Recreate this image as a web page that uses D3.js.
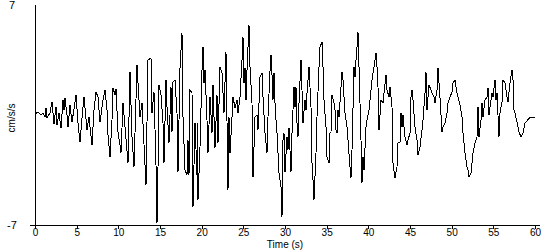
<html lang='eng'>
  <head>
    <script src="https://d3js.org/d3.v7.min.js" charset="utf-8"></script>
    <style>
      body { margin: 0; background: white; }
      text { font-family: Arial, "Liberation Sans", sans-serif; fill: black; }
    </style>
  </head>
  <body>
    <script>
      // acceleration record, time (s) and cm/s/s
      var times = [0, 0.36, 0.72, 0.96, 1.2, 1.32, 1.44, 1.8, 2.04, 2.28, 2.52, 2.64, 2.88, 3.12, 3.36, 3.48, 3.6, 3.84, 3.96,
        4.2, 4.44, 4.68, 4.92, 5.16, 5.4, 5.64, 5.88, 6.24, 6.48, 6.84, 7.08, 7.32, 7.56, 7.8, 8.16, 8.4, 8.64, 8.76, 9.0,
        9.24, 9.36, 9.6, 9.72, 9.96, 10.2, 10.32, 10.56, 10.8, 11.16, 11.4, 11.64, 11.88, 12.24, 12.6, 12.84, 13.32, 13.56,
        13.92, 14.04, 14.28, 14.52, 14.64, 14.76, 14.88, 15.12, 15.36, 15.48, 15.72, 15.84, 16.08, 16.32, 16.44, 16.56, 16.8,
        17.04, 17.16, 17.4, 17.64, 17.76, 18.0, 18.24, 18.36, 18.48, 18.6, 18.84, 18.96, 19.2, 19.44, 19.5, 19.56, 19.8, 20.04,
        20.16, 20.28, 20.4, 20.64, 20.76, 21.0, 21.24, 21.36, 21.6, 21.84, 21.96, 22.2, 22.44, 22.68, 22.92, 23.16, 23.28,
        23.4, 23.64, 23.76, 24.0, 24.24, 24.36, 24.6, 24.84, 24.96, 25.08, 25.2, 25.32, 25.44, 25.68, 25.8, 26.04, 26.16,
        26.4, 26.64, 26.76, 27.0, 27.24, 27.36, 27.6, 27.84, 27.96, 28.2, 28.32, 28.44, 28.56, 28.68, 28.8, 28.92, 29.04,
        29.28, 29.52, 29.64, 29.76, 29.88, 30.0, 30.24, 30.36, 30.48, 30.72, 30.84, 30.96, 31.08, 31.2, 31.32, 31.44, 31.56,
        31.68, 31.92, 32.04, 32.16, 32.4, 32.52, 32.64, 32.76, 32.88, 33.12, 33.24, 33.36, 33.48, 33.72, 33.84, 34.08, 34.2,
        34.44, 34.56, 34.68, 34.92, 35.04, 35.28, 35.4, 35.52, 35.64, 35.88, 36.0, 36.12, 36.24, 36.36, 36.48, 36.72, 36.84,
        36.96, 37.08, 37.2, 37.44, 37.56, 37.8, 37.92, 38.04, 38.28, 38.4, 38.52, 38.64, 38.76, 38.88, 39.12, 39.24, 39.36,
        39.48, 39.72, 39.84, 40.08, 40.32, 40.44, 40.68, 40.92, 41.04, 41.16, 41.28, 41.52, 41.76, 41.88, 42.12, 42.24, 42.48,
        42.6, 42.84, 42.96, 43.2, 43.44, 43.56, 43.8, 43.92, 44.04, 44.16, 44.28, 44.4, 44.64, 44.76, 45.0, 45.12, 45.24,
        45.36, 45.6, 45.84, 45.96, 46.2, 46.44, 46.56, 46.8, 46.92, 47.04, 47.16, 47.28, 47.52, 47.64, 47.88, 48.0, 48.24,
        48.36, 48.6, 48.84, 48.96, 49.2, 49.44, 49.56, 49.8, 50.04, 50.16, 50.4, 50.64, 50.76, 51.0, 51.24, 51.36, 51.6,
        51.84, 51.96, 52.08, 52.32, 52.44, 52.56, 52.8, 53.04, 53.16, 53.28, 53.52, 53.64, 53.76, 54.0, 54.24, 54.36, 54.48,
        54.72, 54.84, 54.96, 55.2, 55.32, 55.44, 55.68, 55.8, 56.04, 56.16, 56.4, 56.64, 56.76, 57.0, 57.24, 57.36, 57.48,
        57.6, 57.84, 58.08, 58.32, 58.56, 58.8, 59.04, 59.4, 60]

      var accel = [0.06, 0.19, 0, 0.13, -0.13, 0.45, -0.19, 0.13, 0.83, -0.57, 0.51, -0.64, 0.13, -0.83, 0.95, 0.32, 1.08, 0, -0.76,
        0.64, -0.45, 0.38, 1.27, -0.51, -1.72, -0.19, 1.15, -0.95, -0.13, -1.91, 0.32, 1.46, 1.15, -0.45, 0.95, 1.59, 0.32, -1.27, -2.67,
        -0.32, 1.72, 1.27, 1.65, -1.08, -1.91, -2.42, 0.76, -0.76, -3.06, 2.74, -1.40, -3.31, 3.18, -0.13, 0.76, -4.46, 3.50,
        3.63, 0.13, 1.46, -3.2, -6.87, -3.37, 1.91, 1.27, -0.51, -3.06, 2.23, 0.51, -1.78, 1.78, -1.08, 2.10, 2.23,
        0.13, -3.63, 2.99, 5.22, -0.13, -3.50, -3.82, -1.59, -3.82, 1.59, 1.40, -5.86, -0.51, -3.82, -0.51, -5.41, -2.04, 2.86,
        4.33, 2.04, 2.86, -0.32, -2.42, 1.15, -1.15, 1.91, -2.10, 1.27, -1.78, 3.06, 2.67, 0.13, 4.01, -4.77, -0.13,
        -2.42, -0.13, 1.15, 0.45, 0.95, 0.13, 1.15, 3.50, 4.97, 2.04, 2.99, 0.95, 2.86, 5.73, 3.06, 0.76, -3.95,
        -0.13, 0, -0.95, 2.42, 2.67, 1.15, -1.15, -2.42, -0.13, 2.8, 3.82, 2.55, 0.95, 2.67, 0.76, -0.32, -1.15,
        -3.69, -4.58, -6.49, -1.59, -1.15, -3.63, -1.40, -2.23, -0.83, -3.63, -1.15, 0.32, 1.78, 0.51, 1.78, -0.51, -1.40,
        0.76, 3.50, 1.59, -0.51, 0.95, 0.32, 1.40, 2.23, 3.06, 0.51, -3.06, -4.14, -5.41, -2.42, -0.13, 3.06, 4.33,
        4.65, 3.06, 0.95, -0.76, -2.67, -3.06, -1.15, -1.08, 1.27, 0.76, 0.32, -0.95, -1.15, 0.32, -0.13, 1.78, 2.74,
        2.23, 1.15, 0.13, -0.76, -1.59, -3.31, -4.01, -2.23, 3.06, 2.42, 3.50, 4.33, 5.28, 3.06, -1.59, -4.33, -2.67,
        -3.50, -0.76, -0.32, 0.32, 1.59, 2.23, 3.06, 3.95, 3.06, 1.78, -0.95, 0.95, 0.76, 1.40, 2.55, 1.59, 1.15,
        1.78, 0.51, -3.06, -4.01, -3.31, -1.78, -1.78, 0.13, -0.76, 0, -0.76, -1.40, -1.91, -1.59, -1.15, 1.15, 1.59,
        0.95, -0.76, -1.59, -2.55, -2.04, -0.95, -0.32, 1.40, 2.74, 0.32, 1.15, 1.91, 1.59, 1.40, 1.15, 0.76, 1.59,
        2.99, 1.08, -1.08, -0.76, -0.51, 0.13, 0.76, 1.15, 1.46, 2.04, 2.23, 1.40, 1.15, 0.64, -0.13, -1.15, -2.42,
        -3.31, -3.50, -3.95, -3.69, -3.06, -2.42, -1.78, -1.40, 0.51, -1.40, -0.32, 0.76, -0.13, 0.95, 1.15, 1.72, 0,
        0.95, 1.40, 1.15, 2.23, 0.95, 1.40, -1.40, 0.13, 0.83, 2.23, 2.04, 1.15, 0.83, 2.04, 2.86, 2.23, 0.32,
        0.13, -0.45, -1.08, -1.40, -1.15, -0.51, -0.38, -0.13, -0.13]

      var xTicks = [0, 5, 10, 15, 20, 25, 30, 35, 40, 45, 50, 55, 60]
      var yLabels = [7, -7]
      var xTitle = "Time (s)"
      var yTitle = "cm/s/s"

      var width = 550
      var height = 250

      var svg = d3.select("body")
                  .append("svg")
                  .attr("width", width)
                  .attr("height", height)

      var x = d3.scaleLinear().domain([0, 60]).range([35, 535])
      var y = d3.scaleLinear().domain([-7, 7]).range([225, 5])

      // axis lines
      svg.append("line")
         .attr("x1", 35.5).attr("x2", 35.5)
         .attr("y1", y(7)).attr("y2", y(-7))
         .attr("stroke", "black")
         .attr("shape-rendering", "crispEdges")

      svg.append("line")
         .attr("x1", 30).attr("x2", 540)
         .attr("y1", y(-7) + 0.5).attr("y2", y(-7) + 0.5)
         .attr("stroke", "black")
         .attr("shape-rendering", "crispEdges")

      var xAxis = d3.axisBottom(x)
                    .tickValues(xTicks)
                    .tickSize(4)
                    .tickPadding(0)
                    .tickFormat(d3.format("d"))

      var gx = svg.append("g")
                  .attr("transform", "translate(0," + y(-7) + ")")
                  .call(xAxis)
      gx.select(".domain").remove()
      gx.selectAll("line").attr("shape-rendering", "crispEdges")
      gx.selectAll("text")
        .attr("font-size", "10px")
        .attr("font-family", "Arial, 'Liberation Sans', sans-serif")
        .attr("fill", "black")

      svg.append("text")
         .attr("x", x(30))
         .attr("y", 247.5)
         .attr("text-anchor", "middle")
         .attr("font-size", "10px")
         .text(xTitle)

      svg.selectAll(".ylab")
         .data(yLabels)
         .enter().append("text")
         .attr("class", "ylab")
         .attr("x", 12)
         .attr("y", function(d) { return y(d) + 4 })
         .attr("text-anchor", "middle")
         .attr("font-size", "11px")
         .text(function(d) { return d })

      svg.append("text")
         .attr("transform", "translate(15,118) rotate(-90)")
         .attr("text-anchor", "middle")
         .attr("font-size", "10px")
         .text(yTitle)

      var pts = times.map(function(t, i) { return [t, accel[i]] })

      var line = d3.line()
                   .x(function(d) { return x(d[0]) })
                   .y(function(d) { return y(d[1]) })

      svg.append("path")
         .datum(pts)
         .attr("d", line)
         .attr("fill", "none")
         .attr("stroke", "black")
         .attr("stroke-width", 1)
         .attr("shape-rendering", "crispEdges")
    </script>
  </body>
</html>
